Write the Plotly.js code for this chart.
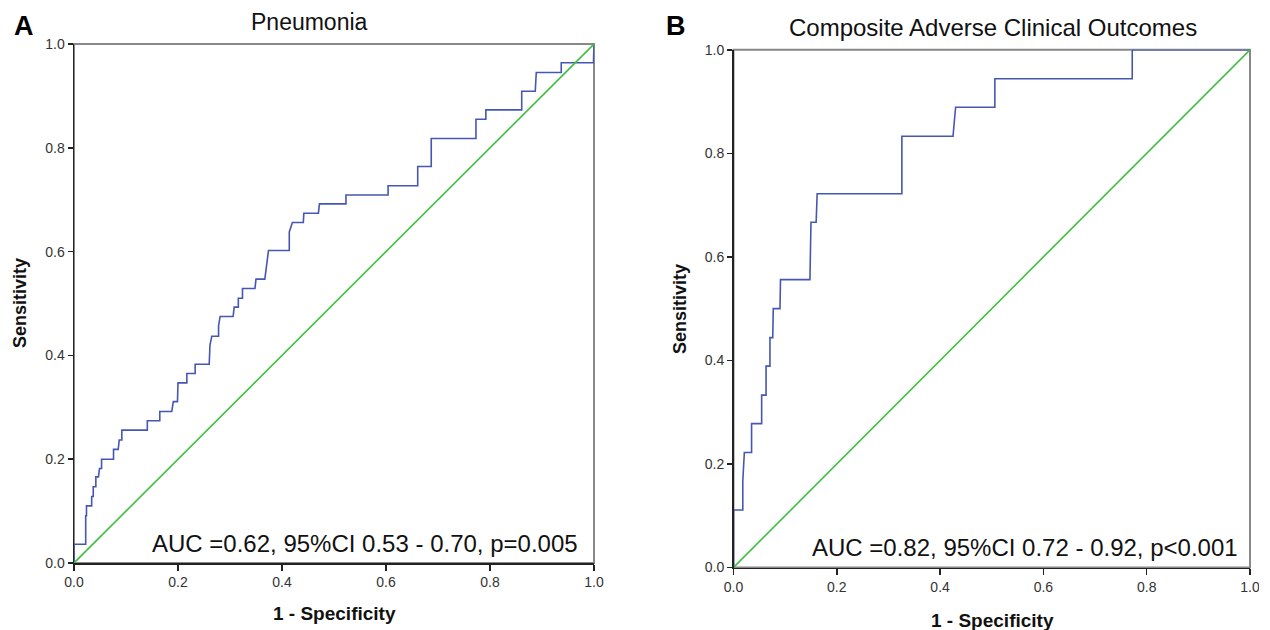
<!DOCTYPE html>
<html>
<head>
<meta charset="utf-8">
<script src="https://cdn.plot.ly/plotly-3.0.1.min.js"></script>
<style>html,body{margin:0;padding:0;background:#fff;}#chart{width:1270px;height:630px;}</style>
</head>
<body>
<div id="chart"></div>
<script>
// Panel A: Pneumonia ROC curve coordinates (1 - specificity, sensitivity)
const pneumoniaFPR = [0,0,0.0225,0.0225,0.024,0.024,0.034,0.034,0.037,0.037,0.042,0.042,0.047,0.049,0.053,0.053,0.076,0.076,0.085,0.087,0.092,0.092,0.141,0.141,0.165,0.165,0.188,0.191,0.199,0.199,0.2,0.217,0.217,0.233,0.233,0.260,0.2615,0.265,0.278,0.278,0.281,0.306,0.308,0.316,0.316,0.324,0.324,0.348,0.35,0.367,0.369,0.372,0.374,0.414,0.414,0.42,0.441,0.442,0.47,0.472,0.523,0.523,0.604,0.604,0.661,0.661,0.687,0.687,0.773,0.773,0.792,0.792,0.861,0.861,0.887,0.888,0.889,0.937,0.937,0.999,1.0];
const pneumoniaTPR = [0,0.036,0.036,0.091,0.091,0.110,0.110,0.128,0.128,0.147,0.147,0.166,0.166,0.182,0.182,0.200,0.200,0.219,0.219,0.237,0.237,0.256,0.256,0.274,0.274,0.292,0.292,0.311,0.311,0.330,0.347,0.347,0.365,0.365,0.383,0.383,0.42,0.437,0.437,0.457,0.475,0.475,0.493,0.493,0.51,0.51,0.529,0.529,0.547,0.547,0.565,0.584,0.602,0.602,0.638,0.656,0.656,0.674,0.674,0.692,0.692,0.709,0.709,0.727,0.727,0.764,0.764,0.818,0.818,0.855,0.855,0.873,0.873,0.909,0.909,0.927,0.945,0.945,0.964,0.964,1.0];

// Panel B: Composite adverse clinical outcomes ROC curve coordinates
const compositeFPR = [0,0,0.018,0.018,0.021,0.035,0.035,0.0545,0.0545,0.063,0.063,0.0706,0.0706,0.076,0.077,0.090,0.091,0.148,0.150,0.160,0.162,0.326,0.326,0.425,0.430,0.506,0.506,0.772,0.772,1.0];
const compositeTPR = [0,0.111,0.111,0.167,0.222,0.222,0.278,0.278,0.333,0.333,0.389,0.389,0.444,0.444,0.5,0.5,0.556,0.556,0.667,0.667,0.722,0.722,0.833,0.833,0.889,0.889,0.944,0.944,1.0,1.0];

// Reference (chance) line
const refLine = [0, 1];

const tickVals = [0, 0.2, 0.4, 0.6, 0.8, 1.0];
const tickText = ['0.0', '0.2', '0.4', '0.6', '0.8', '1.0'];

const panelTitles = ['Pneumonia', 'Composite Adverse Clinical Outcomes'];
const panelLetters = ['A', 'B'];
const aucTexts = ['AUC =0.62, 95%CI 0.53 - 0.70, p=0.005', 'AUC =0.82, 95%CI 0.72 - 0.92, p<0.001'];
const xTitle = '1 - Specificity';
const yTitle = 'Sensitivity';

const W = 1270, H = 630;
const px = v => v / W;
const py = v => 1 - v / H;

const blue = '#4657b3';
const green = '#3fbf3f';
const baseFont = 'Liberation Sans, Arial, sans-serif';

const traces = [
  {x: pneumoniaFPR, y: pneumoniaTPR, xaxis: 'x', yaxis: 'y', mode: 'lines', line: {color: blue, width: 1.6}, hoverinfo: 'skip'},
  {x: refLine, y: refLine, xaxis: 'x', yaxis: 'y', mode: 'lines', line: {color: green, width: 1.6}, hoverinfo: 'skip'},
  {x: compositeFPR, y: compositeTPR, xaxis: 'x2', yaxis: 'y2', mode: 'lines', line: {color: blue, width: 1.6}, hoverinfo: 'skip'},
  {x: refLine, y: refLine, xaxis: 'x2', yaxis: 'y2', mode: 'lines', line: {color: green, width: 1.6}, hoverinfo: 'skip'}
];

function ax(dom, anchor, len) {
  return {domain: dom, anchor: anchor, range: [0, 1], tickvals: tickVals, ticktext: tickText,
    ticks: 'outside', ticklen: len, tickwidth: 1.5, tickcolor: '#222', showline: true, linecolor: '#222', linewidth: 1.5,
    showgrid: false, zeroline: false, tickfont: {family: baseFont, size: 14, color: '#333'}, fixedrange: true};
}

function ann(text, x, y, size, opts) {
  return Object.assign({text: text, x: px(x), y: py(y), xref: 'paper', yref: 'paper', xanchor: 'center', yanchor: 'middle',
    showarrow: false, font: {family: baseFont, size: size, color: '#111'}}, opts || {});
}

const layout = {
  width: W, height: H,
  margin: {l: 0, r: 0, t: 0, b: 0},
  paper_bgcolor: '#fff', plot_bgcolor: '#fff',
  showlegend: false,
  xaxis: ax([px(74), px(594)], 'y', 6),
  yaxis: ax([py(563), py(44)], 'x', 5),
  xaxis2: ax([px(733.5), px(1250)], 'y2', 6),
  yaxis2: ax([py(567.5), py(49.8)], 'x2', 5),
  shapes: [
    {type: 'rect', xref: 'x domain', yref: 'y domain', x0: 0, x1: 1, y0: 0, y1: 1, line: {color: '#888', width: 2}, layer: 'below'},
    {type: 'rect', xref: 'x2 domain', yref: 'y2 domain', x0: 0, x1: 1, y0: 0, y1: 1, line: {color: '#888', width: 2}, layer: 'below'},
    {type: 'rect', xref: 'paper', yref: 'paper', x0: px(1259), x1: 1, y0: 0, y1: py(572), fillcolor: '#fff', line: {width: 0}, layer: 'above'}
  ],
  annotations: [
    ann(panelLetters[0], 24, 26, 27, {font: {family: baseFont, size: 27, color: '#000', weight: 'bold'}}),
    ann(panelLetters[1], 676, 26, 27, {font: {family: baseFont, size: 27, color: '#000', weight: 'bold'}}),
    ann(panelTitles[0], 309, 22, 23),
    ann(panelTitles[1], 993, 28, 24),
    ann(aucTexts[0], 580, 543, 24, {xanchor: 'right'}),
    ann(aucTexts[1], 1240, 547, 24, {xanchor: 'right'}),
    ann(xTitle, 335, 613, 19, {font: {family: baseFont, size: 19, color: '#111', weight: 'bold'}}),
    ann(xTitle, 992, 620, 19, {font: {family: baseFont, size: 19, color: '#111', weight: 'bold'}}),
    ann(yTitle, 20, 303, 18, {textangle: -90, font: {family: baseFont, size: 18, color: '#111', weight: 'bold'}}),
    ann(yTitle, 680, 309, 18, {textangle: -90, font: {family: baseFont, size: 18, color: '#111', weight: 'bold'}})
  ]
};

Plotly.newPlot('chart', traces, layout, {displayModeBar: false, staticPlot: true});
</script>
</body>
</html>
